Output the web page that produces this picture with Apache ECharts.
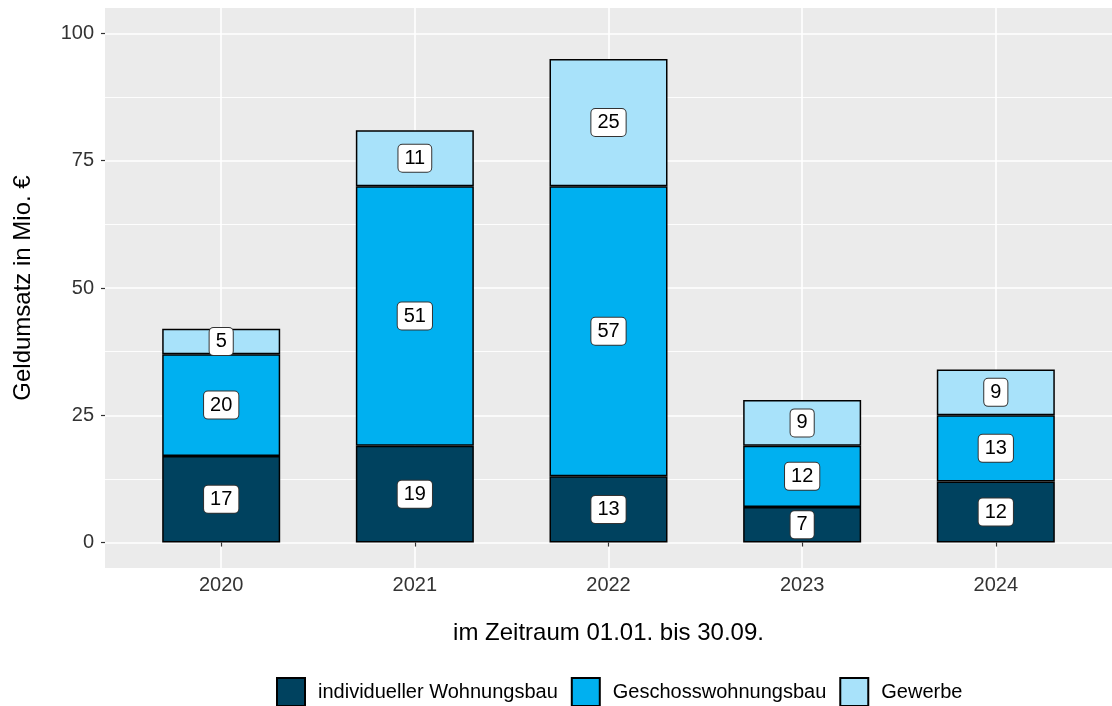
<!DOCTYPE html>
<html>
<head>
<meta charset="utf-8">
<script src="https://cdn.jsdelivr.net/npm/echarts@6/dist/echarts.min.js"></script>
<style>
  html, body { margin: 0; padding: 0; background: #fff; }
  #chart { width: 1112px; height: 706px; }
</style>
</head>
<body>
<div id="chart"></div>
<script>
// ---- data ----
const years = ['2020', '2021', '2022', '2023', '2024'];
const individuellerWohnungsbau = [17, 19, 13, 7, 12];
const geschosswohnungsbau = [20, 51, 57, 12, 13];
const gewerbe = [5, 11, 25, 9, 9];
const yTickValues = [0, 25, 50, 75, 100];
const yMinorValues = [12.5, 37.5, 62.5, 87.5];
const xPositions = [1, 2, 3, 4, 5];

const seriesNames = ['individueller Wohnungsbau', 'Geschosswohnungsbau', 'Gewerbe'];
const seriesColors = ['#00425F', '#00B0F0', '#A8E2FA'];
const seriesValues = [individuellerWohnungsbau, geschosswohnungsbau, gewerbe];

const FONT = '"Liberation Sans", Arial, sans-serif';

const chart = echarts.init(document.getElementById('chart'), null, { renderer: 'canvas' });

const series = seriesNames.map((name, si) => ({
  name: name,
  type: 'bar',
  stack: 'total',
  xAxisIndex: 0,
  yAxisIndex: 0,
  barWidth: 118,
  clip: false,
  // value first so that the stack is applied to the value dimension
  data: seriesValues[si].map((v, i) => [v, xPositions[i]]),
  encode: { x: 1, y: 0 },
  itemStyle: { color: seriesColors[si], borderColor: '#000', borderWidth: 1.5 },
  label: {
    show: true,
    position: 'inside',
    formatter: p => String(p.value[0]),
    color: '#000',
    fontFamily: FONT,
    fontSize: 20,
    lineHeight: 20,
    backgroundColor: '#fff',
    borderColor: '#333',
    borderWidth: 1,
    borderRadius: 4,
    padding: [4, 6, 3, 6]
  },
  emphasis: { disabled: true }
}));

chart.setOption({
  animation: false,
  textStyle: { fontFamily: FONT },
  grid: {
    left: 105, top: 8, width: 1016, height: 560,
    show: true, backgroundColor: '#EBEBEB', borderWidth: 0,
    containLabel: false
  },
  xAxis: [{
    type: 'value',
    min: 0.4, max: 5.6,
    name: 'im Zeitraum 01.01. bis 30.09.',
    nameLocation: 'middle',
    nameGap: 53,
    nameTextStyle: { fontSize: 24, color: '#000', fontFamily: FONT },
    axisLine: { show: false },
    axisTick: { show: true, length: 4, lineStyle: { color: '#333', width: 1.2 }, customValues: xPositions },
    axisLabel: {
      customValues: xPositions,
      formatter: v => years[Math.round(v) - 1],
      fontSize: 20, color: '#333', margin: 7, fontFamily: FONT
    },
    splitLine: { show: true, lineStyle: { color: '#fff', width: 1.6 } }
  }],
  yAxis: [{
    type: 'value',
    min: -5, max: 105,
    name: 'Geldumsatz in Mio. €',
    nameLocation: 'middle',
    nameRotate: 90,
    nameGap: 70,
    nameTextStyle: { fontSize: 24, color: '#000', fontFamily: FONT },
    axisLine: { show: false },
    axisTick: { show: true, length: 4, lineStyle: { color: '#333', width: 1.2 }, customValues: yTickValues },
    axisLabel: { customValues: yTickValues, fontSize: 20, color: '#333', margin: 11, fontFamily: FONT },
    splitLine: { show: true, lineStyle: { color: '#fff', width: 1.6 } }
  }, {
    type: 'value',
    min: -5, max: 105,
    position: 'left',
    axisLine: { show: false },
    axisTick: { show: false, customValues: yMinorValues },
    axisLabel: { show: false, customValues: yMinorValues },
    splitLine: { show: true, lineStyle: { color: '#fff', width: 0.9 } }
  }],
  legend: {
    data: seriesNames,
    left: 276,
    top: 677,
    padding: 0,
    itemWidth: 28,
    itemHeight: 28,
    itemGap: 13,
    icon: 'rect',
    selectedMode: false,
    textStyle: { fontSize: 20, color: '#000', fontFamily: FONT, padding: [0, 0, 0, 8] }
  },
  series: series
});
</script>
</body>
</html>
